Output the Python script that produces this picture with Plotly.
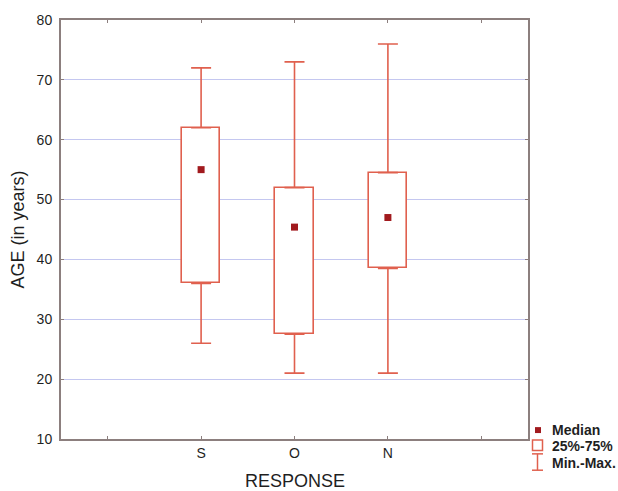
import plotly.graph_objects as go

# Age distribution by response group
categories = ["S", "O", "N"]
age_min = [26, 21, 21]
q1 = [36, 27.5, 38.5]
median = [55, 45.4, 47]
q3 = [62, 52, 54.5]
age_max = [72, 73, 76]

x_tick_vals = [0, 1, 2, 3, 4]
x_tick_text = ["", "S", "O", "N", ""]
y_tick_vals = [10, 20, 30, 40, 50, 60, 70, 80]

BOX_COLOR = "#e0604e"
MEDIAN_COLOR = "#a11a1e"
FRAME_COLOR = "#8c7f7e"
GRID_COLOR = "#c4c7f0"
TEXT_COLOR = "#1f1f1f"
FONT = "Liberation Sans, Arial, sans-serif"

xpos = [i + 1 for i in range(len(categories))]

fig = go.Figure()

# interquartile boxes
fig.add_trace(go.Bar(
    x=xpos,
    y=[b - a for a, b in zip(q1, q3)],
    base=q1,
    width=0.41,
    marker=dict(color="white", line=dict(color=BOX_COLOR, width=1.6)),
    showlegend=False,
    hoverinfo="skip",
))

# upper whiskers (q3 -> max)
fig.add_trace(go.Scatter(
    x=xpos, y=q3, mode="markers",
    marker=dict(size=1, opacity=0),
    error_y=dict(type="data", symmetric=False,
                 array=[m - q for m, q in zip(age_max, q3)],
                 arrayminus=[0] * len(q3),
                 color=BOX_COLOR, thickness=1.6, width=10),
    showlegend=False, hoverinfo="skip",
))

# lower whiskers (min -> q1)
fig.add_trace(go.Scatter(
    x=xpos, y=q1, mode="markers",
    marker=dict(size=1, opacity=0),
    error_y=dict(type="data", symmetric=False,
                 array=[0] * len(q1),
                 arrayminus=[q - m for m, q in zip(age_min, q1)],
                 color=BOX_COLOR, thickness=1.6, width=10),
    showlegend=False, hoverinfo="skip",
))

# medians
fig.add_trace(go.Scatter(
    x=xpos, y=median, mode="markers",
    marker=dict(symbol="square", size=7, color=MEDIAN_COLOR),
    showlegend=False, hoverinfo="skip",
))

L, R, T, B = 61, 90, 16, 52
W, H = 618, 491
pw, ph = W - L - R, H - T - B


def px(xp):
    return (xp - L) / pw


def py(yp):
    return (H - B - yp) / ph


shapes = [
    # legend: median square
    dict(type="rect", xref="paper", yref="paper",
         x0=px(535), x1=px(541), y0=py(433), y1=py(427),
         fillcolor=MEDIAN_COLOR, line=dict(width=0)),
    # legend: box
    dict(type="rect", xref="paper", yref="paper",
         x0=px(532.5), x1=px(542.5), y0=py(450.5), y1=py(440),
         fillcolor="white", line=dict(color=BOX_COLOR, width=1.5)),
    # legend: whisker
    dict(type="line", xref="paper", yref="paper",
         x0=px(537.5), x1=px(537.5), y0=py(470.5), y1=py(454),
         line=dict(color=BOX_COLOR, width=1.5)),
    dict(type="line", xref="paper", yref="paper",
         x0=px(532), x1=px(543), y0=py(454), y1=py(454),
         line=dict(color=BOX_COLOR, width=1.5)),
    dict(type="line", xref="paper", yref="paper",
         x0=px(532), x1=px(543), y0=py(470.5), y1=py(470.5),
         line=dict(color=BOX_COLOR, width=1.5)),
]

legend_labels = ["<b>Median</b>", "<b>25%-75%</b>", "<b>Min.-Max.</b>"]
legend_y = [430, 446.5, 463.5]
annotations = [
    dict(text=t, xref="paper", yref="paper", x=px(549.5), y=py(yy),
         xanchor="left", yanchor="middle", showarrow=False,
         font=dict(family=FONT, size=14, color=TEXT_COLOR))
    for t, yy in zip(legend_labels, legend_y)
]
annotations += [
    dict(text="RESPONSE", xref="paper", yref="paper", x=0.5, y=py(481),
         xanchor="center", yanchor="middle", showarrow=False,
         font=dict(family=FONT, size=18, color=TEXT_COLOR)),
    dict(text="AGE (in years)", xref="paper", yref="paper", x=px(17), y=0.5,
         xanchor="center", yanchor="middle", showarrow=False, textangle=-90,
         font=dict(family=FONT, size=18, color=TEXT_COLOR)),
]

fig.update_layout(
    width=W, height=H,
    margin=dict(l=L, r=R, t=T, b=B, pad=0),
    paper_bgcolor="white", plot_bgcolor="white",
    font=dict(family=FONT, size=14, color=TEXT_COLOR),
    showlegend=False,
    shapes=shapes,
    annotations=annotations,
    bargap=0,
)

fig.update_xaxes(
    range=[-0.5, 4.5],
    tickmode="array", tickvals=x_tick_vals, ticktext=x_tick_text,
    showgrid=False, zeroline=False,
    showline=True, linecolor=FRAME_COLOR, linewidth=2, mirror="ticks",
    ticks="inside", ticklen=3, tickcolor=FRAME_COLOR, tickwidth=1,
    tickfont=dict(family=FONT, size=14, color=TEXT_COLOR),
)
fig.update_yaxes(
    range=[10, 80],
    tickmode="array", tickvals=y_tick_vals,
    showgrid=True, gridcolor=GRID_COLOR, gridwidth=1, zeroline=False,
    showline=True, linecolor=FRAME_COLOR, linewidth=2, mirror="ticks",
    ticks="inside", ticklen=3, tickcolor=FRAME_COLOR, tickwidth=1,
    tickfont=dict(family=FONT, size=14, color=TEXT_COLOR),
    ticklabelstandoff=4,
)

fig.write_html("out.html")
